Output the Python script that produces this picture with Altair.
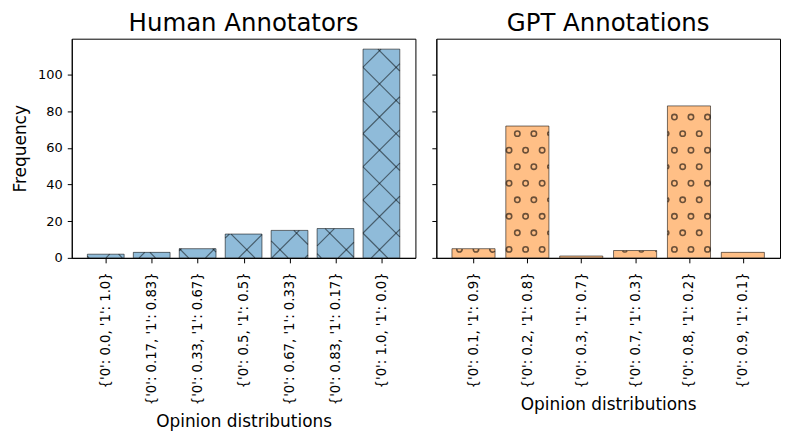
import json
import numpy as np
import pandas as pd
import altair as alt

# ---------------- data ----------------
human_labels = ["{'0': 0.0, '1': 1.0}", "{'0': 0.17, '1': 0.83}", "{'0': 0.33, '1': 0.67}",
                "{'0': 0.5, '1': 0.5}", "{'0': 0.67, '1': 0.33}", "{'0': 0.83, '1': 0.17}",
                "{'0': 1.0, '1': 0.0}"]
human_counts = [2, 3, 5, 13, 15, 16, 114]

gpt_labels = ["{'0': 0.1, '1': 0.9}", "{'0': 0.2, '1': 0.8}", "{'0': 0.3, '1': 0.7}",
              "{'0': 0.7, '1': 0.3}", "{'0': 0.8, '1': 0.2}", "{'0': 0.9, '1': 0.1}"]
gpt_counts = [5, 72, 1, 4, 83, 3]

# ---------------- layout / style ----------------
W, H = 345, 220
BAR_W = 0.8
FONT = "DejaVu Sans"
YMAX = max(max(human_counts), max(gpt_counts)) * 1.05
BLUE = "#8fbbd9"
ORANGE = "#ffbf86"
RING_R = 2.7      # hatch circle radius (px, mid-line)
RING_T = 1.6      # hatch circle stroke thickness (px)


def xdomain(n):
    span = (n - 1) + BAR_W
    m = 0.05 * span
    return [-BAR_W / 2 - m, n - 1 + BAR_W / 2 + m]


def bars_df(labels, counts):
    idx = np.arange(len(counts))
    return pd.DataFrame({"label": labels, "count": counts,
                         "x0": idx - BAR_W / 2, "x1": idx + BAR_W / 2, "y0": 0})


def cross_hatch(counts, dom, spacing=33.3, ph_p=1.1, ph_m=17.4):
    """45-degree hatch lines (pixel space) clipped to each bar."""
    sx = W / (dom[1] - dom[0])
    sy = H / YMAX
    rows = []
    for i, v in enumerate(counts):
        xl = (i - BAR_W / 2 - dom[0]) * sx
        xr = (i + BAR_W / 2 - dom[0]) * sx
        h = v * sy
        k0 = int(np.floor((xl - h - ph_p) / spacing)) - 1
        k1 = int(np.ceil((xr - ph_p) / spacing)) + 1
        for k in range(k0, k1 + 1):
            c = ph_p + k * spacing
            p0, p1 = max(xl, c), min(xr, c + h)
            if p1 - p0 > 0.3:
                rows.append((p0, p0 - c, p1, p1 - c))
        k0 = int(np.floor((xl - ph_m) / spacing)) - 1
        k1 = int(np.ceil((xr + h - ph_m) / spacing)) + 1
        for k in range(k0, k1 + 1):
            c = ph_m + k * spacing
            p0, p1 = max(xl, c - h), min(xr, c)
            if p1 - p0 > 0.3:
                rows.append((p0, c - p0, p1, c - p1))
    df = pd.DataFrame(rows, columns=["px0", "py0", "px1", "py1"])
    return pd.DataFrame({"x0": df.px0 / sx + dom[0], "y0": df.py0 / sy,
                         "x1": df.px1 / sx + dom[0], "count": df.py1 / sy})


def circle_hatch(counts, dom, spacing=16.6, row0=8.5, ph=6.6, r=RING_R):
    """Staggered ring pattern; each ring split into the arcs visible inside its bar."""
    sx = W / (dom[1] - dom[0])
    sy = H / YMAX
    th = np.linspace(0, 2 * np.pi, 361)
    rows = []
    for i, v in enumerate(counts):
        xl = (i - BAR_W / 2 - dom[0]) * sx
        xr = (i + BAR_W / 2 - dom[0]) * sx
        h = v * sy
        j = 0
        while row0 + j * spacing - r <= h:
            py = row0 + j * spacing
            off = ph + (spacing / 2) * (j % 2)
            k = int(np.floor((xl - r - off) / spacing))
            while off + k * spacing <= xr + r:
                px = off + k * spacing
                vx = px + r * np.sin(th)
                vy = py + r * np.cos(th)
                vis = (vx >= xl + 0.3) & (vx <= xr - 0.3) & (vy >= 0) & (vy <= h - 0.3)
                if vis.all():
                    rows.append((px, py, 0.0, 2 * np.pi))
                elif vis.any():
                    start = int(np.argmin(vis))
                    idx = [(start + m) % 360 for m in range(361)]
                    run = None
                    for m in idx:
                        t = th[m] if m >= start else th[m] + 2 * np.pi
                        if vis[m] and run is None:
                            run = t
                        elif not vis[m] and run is not None:
                            rows.append((px, py, run, t))
                            run = None
                    if run is not None:
                        rows.append((px, py, run, th[start] + 2 * np.pi))
                k += 1
            j += 1
    df = pd.DataFrame(rows, columns=["px", "py", "t0", "t1"])
    return pd.DataFrame({"x0": df.px / sx + dom[0], "y0": df.py / sy,
                         "t0": df.t0, "t1": df.t1})


def panel(labels, counts, fill, title, pattern, show_y_labels):
    n = len(counts)
    dom = xdomain(n)
    xscale = alt.Scale(domain=dom, nice=False, zero=False)
    yscale = alt.Scale(domain=[0, YMAX], nice=False, zero=True)
    label_expr = json.dumps(labels) + "[datum.value]"
    xaxis = alt.Axis(values=list(range(n)), labelExpr=label_expr, labelAngle=-90,
                     title="Opinion distributions", grid=False, tickSize=5,
                     labelPadding=9, titlePadding=9, labelFontSize=13.3)
    if show_y_labels:
        yaxis = alt.Axis(values=[0, 20, 40, 60, 80, 100], title="Frequency", grid=False,
                         tickSize=4.5, labelPadding=5, titlePadding=8)
    else:
        yaxis = alt.Axis(values=[0, 20, 40, 60, 80, 100], title=None, labels=False,
                         grid=False, tickSize=4.5)

    X = alt.X("x0:Q", scale=xscale, axis=xaxis)
    Y = alt.Y("y0:Q", scale=yscale, axis=yaxis)

    bars = alt.Chart(bars_df(labels, counts)).mark_rect(
        fill=fill, stroke="black", strokeOpacity=0.55, strokeWidth=1
    ).encode(x=X, x2="x1:Q", y=Y, y2="count:Q")

    if pattern == "x":
        hatch = alt.Chart(cross_hatch(counts, dom)).mark_rule(
            color="black", opacity=0.5, strokeWidth=1.2
        ).encode(x=X, x2="x1:Q", y=Y, y2="count:Q")
    else:
        hatch = alt.Chart(circle_hatch(counts, dom)).mark_arc(
            innerRadius=RING_R - RING_T / 2, outerRadius=RING_R + RING_T / 2,
            color="black", opacity=0.58
        ).encode(
            x=X, y=Y,
            theta=alt.Theta("t0:Q", scale=None, stack=None),
            theta2="t1:Q",
        )
    return alt.layer(bars, hatch).properties(
        width=W, height=H,
        title=alt.Title(title, fontSize=24.5, font=FONT, fontWeight="normal",
                        color="black", offset=1, dy=-1),
    )


left = panel(human_labels, human_counts, BLUE, "Human Annotators", "x", True)
right = panel(gpt_labels, gpt_counts, ORANGE, "GPT Annotations", "o", False)

chart = alt.hconcat(left, right, spacing=14).properties(
    padding={"left": 3, "top": 2, "right": 0, "bottom": 0}
).configure_view(
    stroke="black", strokeWidth=1
).configure_axis(
    labelFont=FONT, titleFont=FONT, labelFontSize=13, titleFontSize=17,
    labelColor="black", titleColor="black", titleFontWeight="normal",
    domainColor="black", tickColor="black", domainWidth=1, tickWidth=1,
)

chart.save("out.html", embed_options={"renderer": "svg", "actions": False})
